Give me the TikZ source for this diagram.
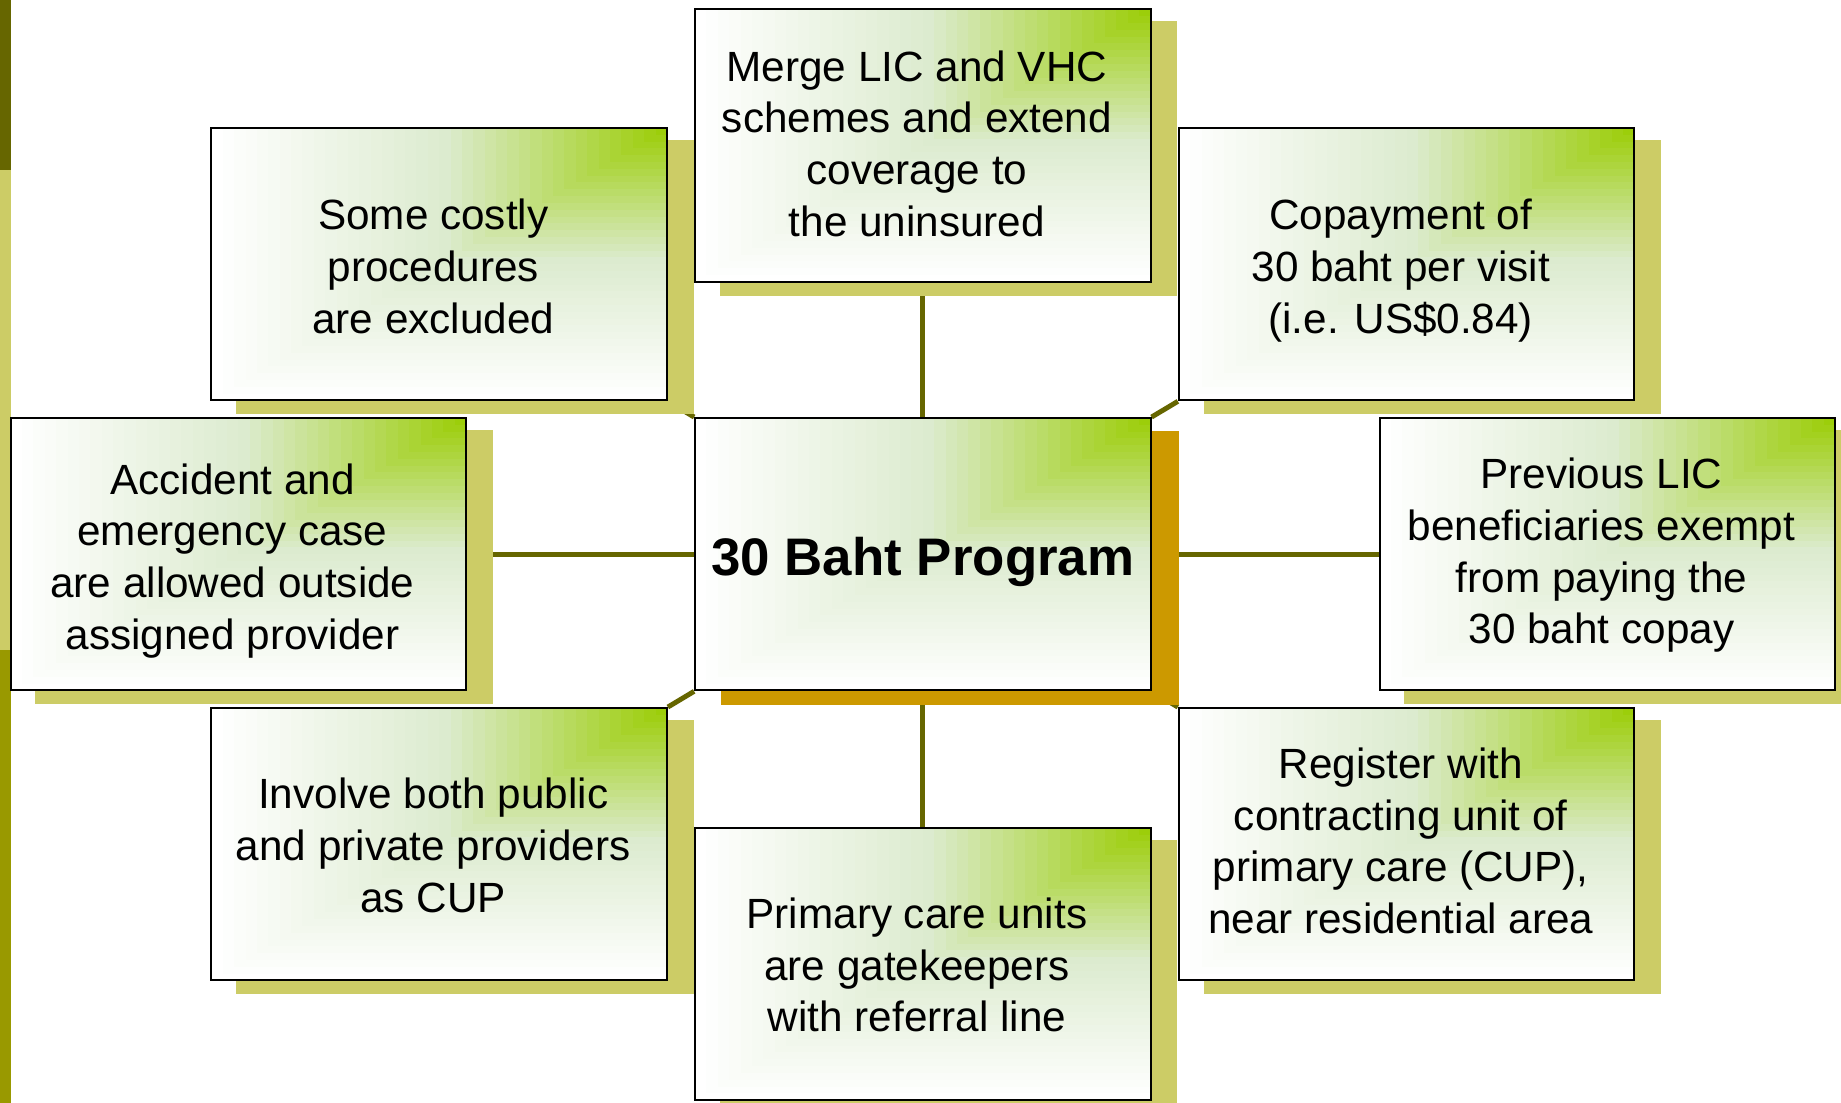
\documentclass[tikz,border=0pt]{standalone}
\usepackage{fontspec}
\setmainfont{Liberation Sans}
\usetikzlibrary{calc}

\definecolor{leaf}{HTML}{99CC00}
\definecolor{pale}{HTML}{DCEBCF}
\definecolor{olivedark}{HTML}{666600}
\definecolor{olivelight}{HTML}{CCCC66}
\definecolor{olivemid}{HTML}{999900}
\definecolor{amber}{HTML}{CC9900}

\pgfdeclarelayer{paper}
\pgfdeclarelayer{wires}
\pgfdeclarelayer{shade}
\pgfsetlayers{paper,wires,shade,main}

% centred lines of a box, lowered by #1 without changing the box size
\newcommand\cardlines[2]{\raisebox{-#1}[\height][\depth]{\begin{tabular}{@{}c@{}}#2\end{tabular}}}
% the same, set a little left of the middle
\newcommand\sidelines[2]{\cardlines{#1}{#2}\kern5pt}

\tikzset{
  % green glow spreading from the upper right corner of a box
  cornerglow/.style={path picture={
    \foreach \i in {0,...,40}{
      \ifnum\i<21
        \pgfmathtruncatemacro\p{(20-\i)*5}\edef\col{white!\p!pale}
      \else
        \pgfmathtruncatemacro\p{(40-\i)*5}\edef\col{pale!\p!leaf}
      \fi
      \pgfmathsetmacro\t{(40-\i)/40}
      \fill[\col] (path picture bounding box.north east) rectangle
        ($(path picture bounding box.north east)!\t!(path picture bounding box.south west)$);
    }}},
  card/.style={draw=black, line width=0.8pt, cornerglow,
    minimum width=194pt, minimum height=116pt, inner sep=0pt,
    text=black, font=\fontsize{18pt}{22pt}\selectfont},
  hub/.style={card, font=\bfseries\fontsize{22.5pt}{27pt}\selectfont},
  wire/.style={draw=olivedark, line width=2.1pt},
}

\begin{document}
\begin{tikzpicture}[x=0.5pt, y=-0.5pt]
\useasboundingbox (0,0) rectangle (1568,939);
\begin{pgfonlayer}{paper}
  \fill[white] (0,0) rectangle (1568,939);
  % side strip
  \fill[olivedark]  (0,0)   rectangle (9.5,145);
  \fill[olivelight] (0,145) rectangle (9.5,554);
  \fill[olivemid]   (0,554) rectangle (9.5,939);
\end{pgfonlayer}

\node[hub]  (c)  at (786,472) {\cardlines{3.6pt}{30 Baht Program}};
\node[card] (tl) at (374,225) {\sidelines{3pt}{Some costly\\procedures\\are excluded}};
\node[card] (tc) at (786,124) {\sidelines{1.1pt}{Merge LIC and VHC\\schemes and extend\\coverage to\\the uninsured}};
\node[card] (tr) at (1198,225) {\sidelines{3pt}{Copayment of\\30 baht per visit\\(i.e. US\$0.84)}};
\node[card] (ml) at (203,472) {\sidelines{3pt}{Accident and\\emergency case\\are allowed outside\\assigned provider}};
\node[card] (mr) at (1369,472) {\sidelines{0.8pt}{Previous LIC\\beneficiaries exempt\\from paying the\\30 baht copay}};
\node[card] (bl) at (374,719) {\sidelines{2.5pt}{Involve both public\\and private providers\\as CUP}};
\node[card] (bc) at (786,821) {\sidelines{2.5pt}{Primary care units\\are gatekeepers\\with referral line}};
\node[card] (br) at (1198,719) {\sidelines{0.6pt}{Register with\\contracting unit of\\primary care (CUP),\\near residential area}};

\begin{pgfonlayer}{shade}
  \foreach \n in {tl,tc,tr,ml,mr,bl,bc,br}{
    \fill[olivelight] ($(\n.south west)+(22,11)$) rectangle ($(\n.north east)+(22,11)$);
  }
  \fill[amber] ($(c.south west)+(23,12)$) rectangle ($(c.north east)+(23,12)$);
\end{pgfonlayer}

\begin{pgfonlayer}{wires}
  \draw[wire] (c.north) -- (tc.south);
  \draw[wire] (c.south) -- (bc.north);
  \draw[wire] (c.west) -- (ml.east);
  \draw[wire] (c.east) -- (mr.west);
  \draw[wire] (c.north west) -- (tl.south east);
  \draw[wire] (c.north east) -- (tr.south west);
  \draw[wire] (c.south west) -- (bl.north east);
  \draw[wire] (c.south east) -- (br.north west);
\end{pgfonlayer}
\end{tikzpicture}
\end{document}
